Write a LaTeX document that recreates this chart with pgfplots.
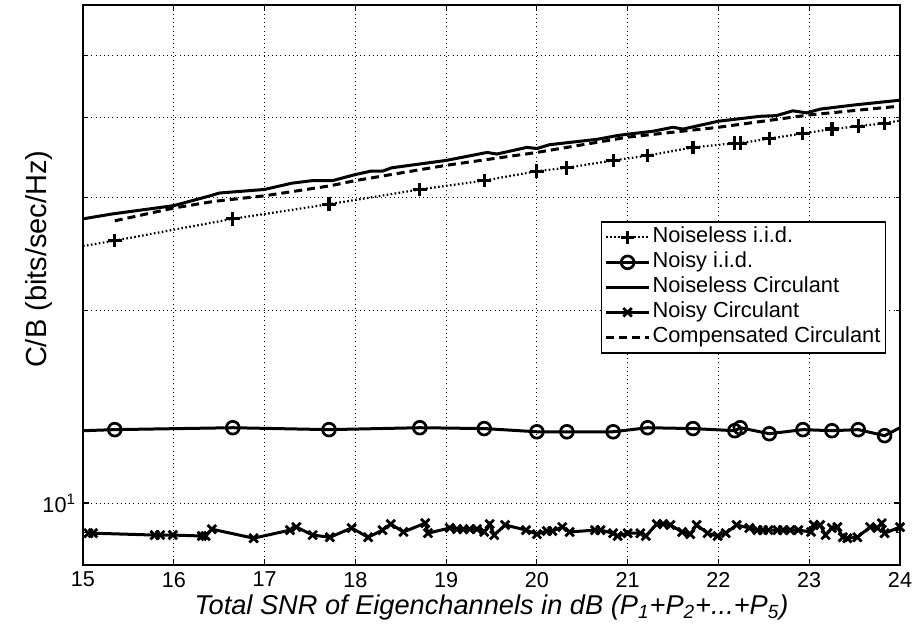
\documentclass[border=0pt]{standalone}
\usepackage{fontspec}
\setmainfont{Liberation Sans}
\usepackage{pgfplots}
\pgfplotsset{compat=1.18}

\begin{document}
\begin{tikzpicture}
\begin{axis}[
  scale only axis,
  width=408.5pt, height=280pt,
  xmin=15, xmax=24, ymin=8, ymax=60,
  ymode=log,
  xtick={15,16,...,24},
  ytick={10}, yticklabels={10\textsuperscript{1}},
  minor ytick={8,9,60},
  extra y ticks={20,30,40,50}, extra y tick labels={},
  extra y tick style={major tick length=2pt, grid=major},
  /pgf/number format/assume math mode=true,
  tick align=inside, xtick pos=both, ytick pos=both,
  major tick length=3pt, minor tick length=2pt,
  every tick/.style={black, line width=0.6pt},
  axis line style={line width=0.9pt},
  grid=major,
  grid style={black, line width=0.45pt, dash pattern=on 0.5pt off 1.6pt},
  every tick label/.append style={font=\fontsize{10.8}{12}\selectfont},
  xlabel={\itshape Total SNR of Eigenchannels in dB (P\textsubscript{1}+P\textsubscript{2}+...+P\textsubscript{5})},
  ylabel={C/B (bits/sec/Hz)},
  xlabel style={font=\fontsize{13.6}{15}\selectfont,
    at={(axis description cs:0.5,-0.0884)}, anchor=base},
  ylabel style={font=\fontsize{14.5}{16}\selectfont,
    at={(axis description cs:-0.0441,0.546)}, anchor=base},
  legend style={at={(axis description cs:0.983,0.614)}, anchor=north east,
    font=\fontsize{10.9}{12}\selectfont, draw=black, line width=0.7pt,
    inner sep=1.5pt, row sep=0pt,
    nodes={inner sep=1pt, text height=8pt, text depth=2.5pt}},
  legend cell align=left,
  legend image code/.code={\draw[mark indices={2}] plot coordinates {(0pt,0pt) (10.75pt,0pt) (21.5pt,0pt)};},
]

% Noiseless i.i.d.
\addplot[black, line width=1.1pt, dash pattern=on 0.8pt off 1.2pt,
  mark=+, mark size=3.4pt, mark options={solid, line width=1.6pt},
  mark indices={2,3,4,5,6,7,8,9,10,11,12,13,14,15,16,17,18}] coordinates {
  (15.00,25.2) (15.35,25.7) (16.65,27.8) (17.71,29.3) (18.71,30.9)
  (19.42,31.9) (20.00,33.0) (20.33,33.4) (20.84,34.3) (21.22,34.9)
  (21.72,35.95) (22.18,36.5) (22.24,36.5) (22.56,37.1) (22.93,37.8)
  (23.25,38.4) (23.54,38.8) (23.83,39.2) (24.00,39.6)
};
\addlegendentry{Noiseless i.i.d.}

% Noisy i.i.d.
\addplot[black, line width=1.5pt, mark=o, mark size=3.2pt,
  mark options={solid, line width=1.35pt},
  mark indices={2,3,4,5,6,7,8,9,10,11,12,13,14,15,16,17,18}] coordinates {
  (15.00,12.97) (15.35,13.02) (16.65,13.11) (17.71,13.02) (18.71,13.11)
  (19.42,13.07) (20.00,12.92) (20.33,12.92) (20.84,12.92) (21.22,13.11)
  (21.72,13.07) (22.18,12.97) (22.24,13.11) (22.56,12.83) (22.93,13.02)
  (23.25,12.97) (23.54,13.02) (23.83,12.74) (24.00,13.11)
};
\addlegendentry{Noisy i.i.d.}

% Noiseless circulant
\addplot[black, line width=1.5pt, no marks] coordinates {
  (15.00,27.8) (15.33,28.3) (16.00,29.15) (16.40,30.2) (16.50,30.5)
  (17.00,30.9) (17.30,31.6) (17.53,31.9) (17.75,31.9) (18.00,32.6)
  (18.17,33.0) (18.30,33.0) (18.40,33.4) (19.00,34.3) (19.45,35.3)
  (19.56,35.1) (19.89,35.95) (20.00,35.8) (20.14,36.3) (20.66,37.0)
  (20.88,37.5) (21.00,37.7) (21.28,38.1) (21.50,38.65) (21.61,38.4)
  (22.00,39.5) (22.46,40.2) (22.64,40.3) (22.82,41.0) (22.97,40.7)
  (23.12,41.25) (23.48,41.85) (24.00,42.6)
};
\addlegendentry{Noiseless Circulant}

% Noisy circulant
\addplot[black, line width=1.5pt, mark=x, mark size=3pt,
  mark options={solid, line width=1.4pt}] coordinates {
  (15.06,8.97) (15.11,8.97) (15.79,8.91) (15.85,8.91) (15.99,8.91)
  (16.31,8.88) (16.35,8.88) (16.42,9.10) (16.88,8.81) (17.28,9.07)
  (17.35,9.17) (17.53,8.91) (17.72,8.84) (17.96,9.14) (18.14,8.84)
  (18.30,9.07) (18.39,9.27) (18.53,9.01) (18.77,9.30) (18.80,8.97)
  (19.04,9.14) (19.12,9.10) (19.19,9.10) (19.26,9.10) (19.34,9.10)
  (19.42,9.01) (19.48,9.27) (19.53,8.91) (19.65,9.24) (19.88,9.07)
  (20.00,8.94) (20.11,9.04) (20.17,9.04) (20.28,9.17) (20.36,9.01)
  (20.64,9.07) (20.70,9.07) (20.84,8.97) (20.89,8.88) (21.00,8.97)
  (21.14,8.97) (21.20,8.88) (21.32,9.27) (21.39,9.27) (21.47,9.24)
  (21.60,9.01) (21.69,8.94) (21.76,9.24) (21.88,8.97) (21.99,8.88)
  (22.08,8.97) (22.20,9.24) (22.34,9.14) (22.43,9.07) (22.49,9.07)
  (22.55,9.07) (22.65,9.07) (22.71,9.07) (22.79,9.07) (22.88,9.07)
  (23.02,9.01) (23.05,9.24) (23.12,9.24) (23.18,8.91) (23.25,9.14)
  (23.31,9.17) (23.37,8.84) (23.42,8.81) (23.53,8.84) (23.67,9.17)
  (23.75,9.14) (23.80,9.30) (23.83,8.97) (24.00,9.17)
};
\addlegendentry{Noisy Circulant}

% Compensated circulant
\addplot[black, line width=1.5pt, dash pattern=on 4pt off 2.5pt, no marks] coordinates {
  (15.35,27.6) (16.00,28.9) (16.44,29.6) (17.00,30.2) (17.72,31.3)
  (18.00,31.9) (19.00,33.7) (20.00,35.3) (21.00,37.3) (22.00,38.65)
  (23.00,40.4) (24.00,41.7)
};
\addlegendentry{Compensated Circulant}

\end{axis}
% page frame around the axis and its labels
\path (current axis.south west) ++(-41.5pt,-34pt) coordinate (bbsw);
\path (current axis.north east) ++(7.5pt,2.5pt) coordinate (bbne);
\pgfresetboundingbox
\path (bbsw) rectangle (bbne);
\end{tikzpicture}
\end{document}
